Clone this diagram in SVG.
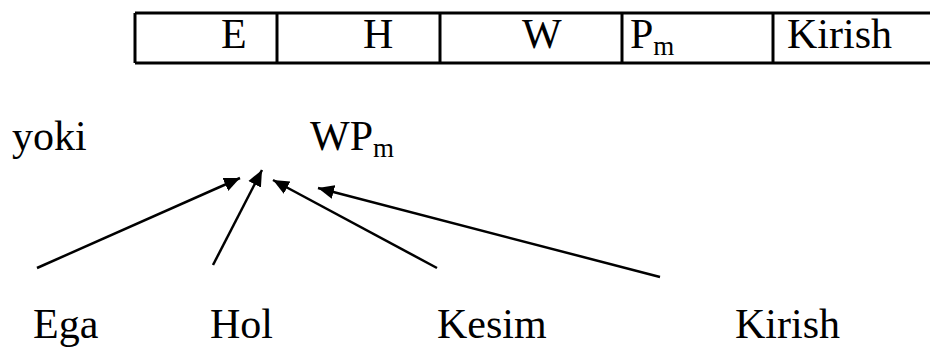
<svg xmlns="http://www.w3.org/2000/svg" width="943" height="350" viewBox="0 0 943 350">
  <style>
    .grid { stroke: #000; stroke-width: 3; fill: none; }
    .edge { stroke: #000; stroke-width: 2.5; fill: none; marker-end: url(#head); }
  </style>
  <defs>
    <marker id="head" markerUnits="userSpaceOnUse" markerWidth="18" markerHeight="16" refX="16" refY="8" orient="auto">
      <path d="M0,1 L16,8 L0,15 Z" fill="#000"/>
    </marker>
  </defs>

  <rect width="943" height="350" fill="#fff"/>

  <g font-family="Times New Roman, Liberation Serif, Tinos, DejaVu Serif, serif" font-size="42" fill="#000">
    <!-- header row of the table -->
    <g id="table">
      <line class="grid" x1="135" y1="13" x2="930" y2="13"/>
      <line class="grid" x1="135" y1="63" x2="930" y2="63"/>
      <line class="grid" x1="135" y1="13" x2="135" y2="63"/>
      <line class="grid" x1="277" y1="13" x2="277" y2="63"/>
      <line class="grid" x1="440" y1="13" x2="440" y2="63"/>
      <line class="grid" x1="622" y1="13" x2="622" y2="63"/>
      <line class="grid" x1="773" y1="13" x2="773" y2="63"/>
      <text x="221" y="48">E</text>
      <text x="363" y="48">H</text>
      <text x="522" y="48">W</text>
      <text x="630" y="48">P<tspan font-size="27" dy="7">m</tspan></text>
      <text x="787" y="48">Kirish</text>
    </g>

    <g id="yoki"><text x="12" y="150">yoki</text></g>
    <g id="wpm"><text x="310" y="150">WP<tspan font-size="27" dy="7">m</tspan></text></g>

    <g id="ega"><text x="33" y="338">Ega</text></g>
    <g id="hol"><text x="210" y="338">Hol</text></g>
    <g id="kesim"><text x="437" y="338">Kesim</text></g>
    <g id="kirish"><text x="735" y="338">Kirish</text></g>
  </g>

  <!-- arrows converging on the product -->
  <g id="connectors">
    <line class="edge" x1="37" y1="268" x2="240" y2="178"/>
    <line class="edge" x1="213" y1="265" x2="262" y2="170"/>
    <line class="edge" x1="437" y1="268" x2="273" y2="180"/>
    <line class="edge" x1="660" y1="277" x2="318" y2="188"/>
  </g>
</svg>
